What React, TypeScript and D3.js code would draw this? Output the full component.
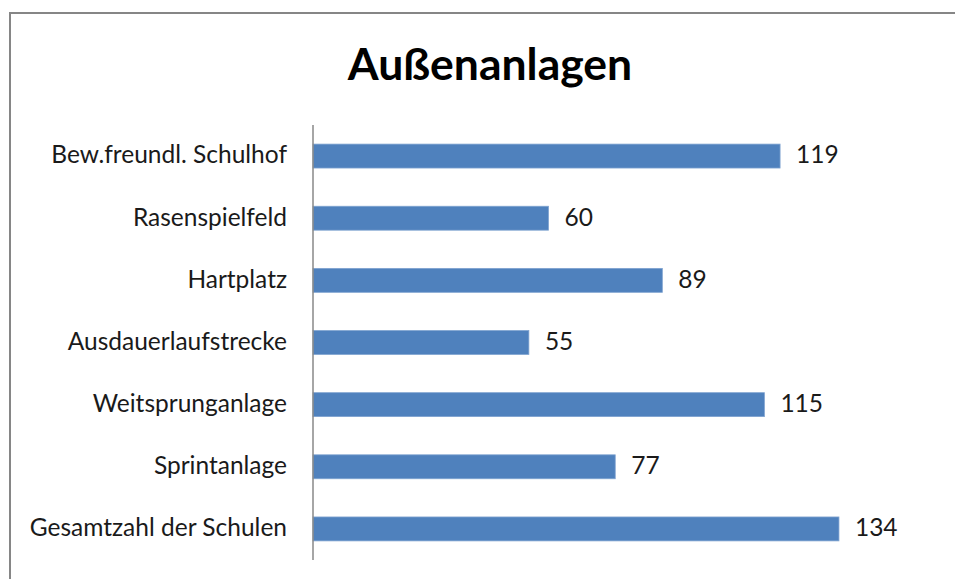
import React, { useEffect, useRef } from 'react';
import * as d3 from 'd3';

const categories = [
  'Bew.freundl. Schulhof',
  'Rasenspielfeld',
  'Hartplatz',
  'Ausdauerlaufstrecke',
  'Weitsprunganlage',
  'Sprintanlage',
  'Gesamtzahl der Schulen',
];
const values = [119, 60, 89, 55, 115, 77, 134];
const chartTitle = 'Außenanlagen';

function App() {
  const svgRef = useRef<SVGSVGElement>(null);

  useEffect(() => {
    const width = 955;
    const height = 579;
    const svg = d3.select(svgRef.current)
      .attr('width', width)
      .attr('height', height);
    svg.selectAll('*').remove();

    const font = 'Lato, Carlito, Calibri, sans-serif';

    // white background + chart frame
    svg.append('rect')
      .attr('width', width).attr('height', height).attr('fill', 'white');
    svg.append('rect')
      .attr('x', 10).attr('y', 13)
      .attr('width', 960).attr('height', 600)
      .attr('fill', 'none')
      .attr('stroke', '#868686')
      .attr('stroke-width', 2);

    // title
    svg.append('text')
      .attr('x', 490).attr('y', 79.5)
      .attr('text-anchor', 'middle')
      .style('font-family', font)
      .style('font-weight', 'bold')
      .style('font-size', '44.5px')
      .style('fill', '#000')
      .text(chartTitle);

    const x0 = 313;
    const x = d3.scaleLinear().domain([0, 160]).range([x0, 941]);
    const y = d3.scaleBand()
      .domain(categories)
      .range([125, 560])
      .paddingInner(0.615)
      .paddingOuter(0.3075);

    const rows = categories.map((c, i) => ({ cat: c, val: values[i] }));

    // bars
    svg.selectAll('rect.bar')
      .data(rows)
      .enter()
      .append('rect')
      .attr('class', 'bar')
      .attr('x', x0)
      .attr('y', d => y(d.cat)!)
      .attr('width', d => x(d.val) - x0)
      .attr('height', y.bandwidth())
      .attr('fill', '#4F81BD')
      .attr('stroke', '#7FA3D0')
      .attr('stroke-width', 0.8);

    // axis line
    svg.append('line')
      .attr('x1', x0).attr('x2', x0)
      .attr('y1', 125).attr('y2', 560)
      .attr('stroke', '#888')
      .attr('stroke-width', 1.5);

    // category labels
    svg.selectAll('text.cat')
      .data(rows)
      .enter()
      .append('text')
      .attr('class', 'cat')
      .attr('x', 287)
      .attr('y', d => y(d.cat)! + y.bandwidth() / 2)
      .attr('dy', '0.3em')
      .attr('text-anchor', 'end')
      .style('font-family', font)
      .style('font-size', '24.5px')
      .style('fill', '#1a1a1a')
      .text(d => d.cat);

    // value labels
    svg.selectAll('text.val')
      .data(rows)
      .enter()
      .append('text')
      .attr('class', 'val')
      .attr('x', d => x(d.val) + 16)
      .attr('y', d => y(d.cat)! + y.bandwidth() / 2)
      .attr('dy', '0.3em')
      .style('font-family', font)
      .style('font-size', '24.5px')
      .style('fill', '#1a1a1a')
      .text(d => d.val);
  }, []);

  return (
    <div style={{ position: 'fixed', left: 0, top: 0 }}>
      <svg ref={svgRef} style={{ display: 'block' }}></svg>
    </div>
  );
}

export default App;
